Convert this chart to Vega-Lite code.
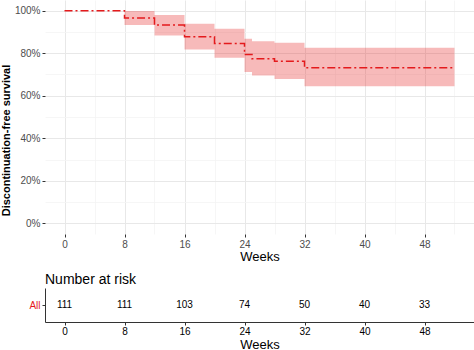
{
  "$schema": "https://vega.github.io/schema/vega-lite/v6.json",
  "padding": 0,
  "spacing": 10,
  "config": {
    "view": {"stroke": null},
    "font": "Liberation Sans",
    "axis": {"labelFont": "Liberation Sans", "titleFont": "Liberation Sans"}
  },
  "datasets": {
    "surv": [
      {"time": 0, "surv": 1.0, "upper": 1.0, "lower": 1.0},
      {"time": 8, "surv": 0.965, "upper": 0.998, "lower": 0.932},
      {"time": 12, "surv": 0.932, "upper": 0.979, "lower": 0.883},
      {"time": 16, "surv": 0.877, "upper": 0.938, "lower": 0.817},
      {"time": 20, "surv": 0.846, "upper": 0.915, "lower": 0.778},
      {"time": 24, "surv": 0.794, "upper": 0.868, "lower": 0.711},
      {"time": 25, "surv": 0.774, "upper": 0.856, "lower": 0.695},
      {"time": 28, "surv": 0.762, "upper": 0.849, "lower": 0.679},
      {"time": 32, "surv": 0.731, "upper": 0.825, "lower": 0.645},
      {"time": 52, "surv": 0.731, "upper": 0.825, "lower": 0.645}
    ],
    "risk": [
      {"time": 0, "n": 111, "strata": "All"},
      {"time": 8, "n": 111, "strata": "All"},
      {"time": 16, "n": 103, "strata": "All"},
      {"time": 24, "n": 74, "strata": "All"},
      {"time": 32, "n": 50, "strata": "All"},
      {"time": 40, "n": 40, "strata": "All"},
      {"time": 48, "n": 33, "strata": "All"}
    ]
  },
  "vconcat": [
    {
      "width": 429,
      "height": 234,
      "data": {"name": "surv"},
      "layer": [
        {
          "mark": {"type": "area", "interpolate": "step-after", "color": "#E41A1C", "opacity": 0.3},
          "encoding": {
            "x": {"field": "time", "type": "quantitative",
              "scale": {"domain": [-2.6, 54.6], "nice": false, "zero": false},
              "axis": {"orient": "top", "values": [4, 12, 20, 28, 36, 44, 52], "labels": false, "ticks": false, "domain": false, "title": null, "grid": true, "gridColor": "#f4f4f4", "gridWidth": 0.8}},
            "y": {"field": "lower", "type": "quantitative",
              "scale": {"domain": [-0.05, 1.05], "nice": false, "zero": false},
              "axis": {"orient": "right", "values": [0.1, 0.3, 0.5, 0.7, 0.9], "labels": false, "ticks": false, "domain": false, "title": null, "grid": true, "gridColor": "#f4f4f4", "gridWidth": 0.8}},
            "y2": {"field": "upper"}
          }
        },
        {
          "mark": {"type": "line", "interpolate": "step-after", "color": "#E41A1C", "strokeWidth": 1.5, "strokeDash": [8, 3, 2, 3]},
          "encoding": {
            "x": {"field": "time", "type": "quantitative",
              "scale": {"domain": [-2.6, 54.6], "nice": false, "zero": false},
              "axis": {"orient": "bottom", "values": [0, 8, 16, 24, 32, 40, 48], "grid": true, "gridColor": "#e8e8e8", "gridWidth": 1, "domain": false, "ticks": true, "tickSize": 3, "tickColor": "#333333", "labelFontSize": 10, "labelColor": "#4d4d4d", "labelPadding": 2, "title": "Weeks", "titleFontSize": 13, "titleFontWeight": "normal", "titleColor": "#000000", "titlePadding": 1}},
            "y": {"field": "surv", "type": "quantitative",
              "scale": {"domain": [-0.05, 1.05], "nice": false, "zero": false},
              "axis": {"orient": "left", "values": [0, 0.2, 0.4, 0.6, 0.8, 1.0], "format": ".0%", "grid": true, "gridColor": "#e8e8e8", "gridWidth": 1, "domain": false, "ticks": true, "tickSize": 3, "tickColor": "#333333", "labelFontSize": 10, "labelColor": "#4d4d4d", "labelPadding": 2, "title": "Discontinuation-free survival", "titleFontSize": 11, "titleFontWeight": "bold", "titleColor": "#000000", "titlePadding": 3, "titleY": 140}}
          }
        }
      ],
      "resolve": {"axis": {"x": "independent", "y": "independent"}}
    },
    {
      "width": 429,
      "height": 34,
      "data": {"name": "risk"},
      "title": {"text": "Number at risk", "anchor": "start", "frame": "group", "fontSize": 14, "fontWeight": "normal", "color": "#000000", "offset": 1},
      "mark": {"type": "text", "fontSize": 10, "color": "#000000"},
      "encoding": {
        "x": {"field": "time", "type": "quantitative",
          "scale": {"domain": [-2.6, 54.6], "nice": false, "zero": false},
          "axis": {"values": [0, 8, 16, 24, 32, 40, 48], "grid": false, "domain": true, "domainColor": "#333333", "domainWidth": 1, "ticks": true, "tickSize": 3, "tickColor": "#333333", "labelFontSize": 10, "labelColor": "#000000", "labelPadding": 1, "title": "Weeks", "titleFontSize": 13, "titleFontWeight": "normal", "titleColor": "#000000", "titlePadding": 2}},
        "y": {"field": "strata", "type": "nominal",
          "axis": {"domain": true, "domainColor": "#333333", "domainWidth": 1, "ticks": true, "tickSize": 3, "tickColor": "#333333", "labelFontSize": 10, "labelColor": "#E41A1C", "labelPadding": 2, "title": null, "grid": false}},
        "text": {"field": "n", "type": "quantitative"}
      }
    }
  ]
}
